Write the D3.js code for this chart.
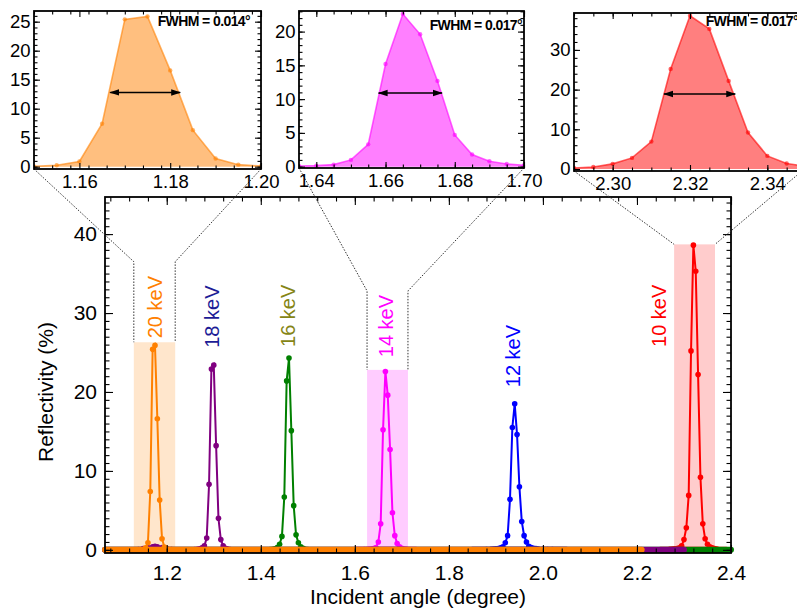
<!DOCTYPE html>
<html>
<head>
<meta charset="utf-8">
<script src="https://cdn.jsdelivr.net/npm/d3@7"></script>
<style>
body { margin: 0; background: #fff; }
text { font-family: "Liberation Sans", Arial, sans-serif; }
</style>
</head>
<body>
<div id="chart"></div>
<script>
// Reflectivity peaks, [incident angle (deg), reflectivity (%)]
const kev10 = [[2.27,0.08],[2.275,0.1],[2.28,0.13],[2.285,0.17],[2.29,0.25],[2.295,0.5],[2.30,1.3],[2.305,2.8],[2.31,6.9],[2.315,25.2],[2.32,38.6],[2.325,35.3],[2.33,22.2],[2.335,9.2],[2.34,3.3],[2.345,1.4],[2.35,0.7],[2.355,0.4],[2.36,0.25],[2.365,0.15],[2.37,0.1]];
const kev12 = [[1.88,0.05],[1.89,0.08],[1.895,0.1],[1.90,0.13],[1.905,0.17],[1.91,0.25],[1.915,0.4],[1.92,0.9],[1.925,1.8],[1.93,6.4],[1.935,15.5],[1.94,18.5],[1.945,14.6],[1.95,8.0],[1.955,3.6],[1.96,1.8],[1.965,1.0],[1.97,0.45],[1.975,0.3],[1.98,0.2],[1.985,0.15],[1.99,0.11],[2.00,0.07],[2.01,0.05],[2.02,0.04]];
const kev14 = [[1.62,0.03],[1.625,0.05],[1.63,0.08],[1.635,0.1],[1.64,0.15],[1.645,0.3],[1.65,1.0],[1.655,3.3],[1.66,15.2],[1.665,22.6],[1.67,19.6],[1.675,12.7],[1.68,4.7],[1.685,1.8],[1.69,0.8],[1.695,0.4],[1.70,0.2],[1.705,0.1],[1.71,0.06]];
const kev16 = [[1.42,0.05],[1.425,0.08],[1.43,0.12],[1.435,0.3],[1.44,0.7],[1.445,1.7],[1.45,6.7],[1.455,21.4],[1.46,24.3],[1.465,15.1],[1.47,5.6],[1.475,1.9],[1.48,0.9],[1.485,0.4],[1.49,0.2],[1.495,0.08],[1.50,0.05]];
const kev18 = [[1.14,0.05],[1.15,0.15],[1.16,0.3],[1.17,0.4],[1.175,0.45],[1.18,0.4],[1.19,0.3],[1.20,0.15],[1.21,0.05],[1.22,0.02],[1.26,0.05],[1.265,0.08],[1.27,0.12],[1.275,0.25],[1.28,0.5],[1.285,1.5],[1.29,8.3],[1.295,22.9],[1.30,23.4],[1.305,13.2],[1.31,4.0],[1.315,1.3],[1.32,0.5],[1.325,0.2],[1.33,0.1],[1.335,0.05]];
const kev20 = [[1.14,0.02],[1.145,0.03],[1.15,0.05],[1.155,0.25],[1.16,0.9],[1.165,7.4],[1.17,25.4],[1.175,25.9],[1.18,16.6],[1.185,6.3],[1.19,1.4],[1.195,0.35],[1.20,0.1],[1.205,0.05],[1.21,0.03]];

const energies = ["10 keV", "12 keV", "14 keV", "16 keV", "18 keV", "20 keV"];
const seriesData = [kev10, kev12, kev14, kev16, kev18, kev20];
const lineColors = ["#ff0000", "#0000ff", "#ff00ff", "#008000", "#800080", "#ff8000"];
const labelColors = ["#ff0000", "#0000ff", "#ff00ff", "#858515", "#1c1c96", "#ff8000"];
// angle range where each scan sits on ~0 %
const baseStart = [2.25, 1.85, 1.60, 1.0687, 1.0687, 1.0687];
const baseEnd = [2.39, 2.05, 1.73, 2.40, 2.30, 2.21];
// energy label anchor (angle, reflectivity)
const labelAngle = [2.2475, 1.9358, 1.6666, 1.457, 1.2953, 1.175];
const labelLevel = [25.7, 20.6, 24.4, 25.7, 25.6, 26.8];

// zoomed peaks
const zoomSeries = [5, 2, 0];
const zoomAngle = [[1.15, 1.20], [1.635, 1.70], [2.29, 2.35]];
const zoomLevel = [[-0.4, 26.84], [-0.2, 23.05], [-0.5, 39.3]];
const zoomXTicks = [[1.16, 1.18, 1.20], [1.64, 1.66, 1.68, 1.70], [2.30, 2.32, 2.34]];
const zoomYTicks = [[0, 5, 10, 15, 20, 25], [0, 5, 10, 15, 20], [0, 10, 20, 30]];
const bandAngle = [[1.13, 1.218], [1.626, 1.713], [2.279, 2.366]];
const bandTop = [26.3, 22.8, 38.7];
const bandBend = [36.5, 32.8, 38.7];
const fwhmLeft = [1.1668, 1.658, 2.3133];
const fwhmRight = [1.1822, 1.6763, 2.3317];
const fwhmLevel = [12.8, 10.9, 18.9];
const fwhmText = ["FWHM = 0.014°", "FWHM = 0.017°", "FWHM = 0.017°"];

const W = 797, H = 613;
const margin = { top: 197, right: 66, bottom: 60, left: 105 };

const svg = d3.select("#chart").append("svg")
    .attr("width", W).attr("height", H)
    .style("display", "block");

svg.append("defs").append("marker")
    .attr("id", "head")
    .attr("viewBox", "0 -4 10 8")
    .attr("refX", 9).attr("refY", 0)
    .attr("markerUnits", "userSpaceOnUse")
    .attr("markerWidth", 10).attr("markerHeight", 8)
    .attr("orient", "auto-start-reverse")
    .append("path").attr("d", "M0,-3.2L10,0L0,3.2Z").attr("fill", "#000");

const x = d3.scaleLinear().domain([1.0687, 2.4]).range([margin.left, W - margin.right]);
const y = d3.scaleLinear().domain([-0.4, 44.7]).range([H - margin.bottom, margin.top]);

// draws ticks on all four sides pointing inward, Mathematica style
function drawFrame(g, xs, ys, xMajor, xMinor, yMajor, yMinor, o) {
    const [l, r] = xs.range();
    const [b, t] = ys.range();
    const parts = [
        [d3.axisBottom, xs, b, xMinor, o.minor, null],
        [d3.axisBottom, xs, b, xMajor, o.major, o.xFormat],
        [d3.axisTop, xs, t, xMinor, o.minor, null],
        [d3.axisTop, xs, t, xMajor, o.major, null],
        [d3.axisLeft, ys, l, yMinor, o.minor, null],
        [d3.axisLeft, ys, l, yMajor, o.major, o.yFormat],
        [d3.axisRight, ys, r, yMinor, o.minor, null],
        [d3.axisRight, ys, r, yMajor, o.major, null]
    ];
    parts.forEach(([ax, sc, pos, vals, len, fmt], i) => {
        const horiz = i < 4;
        const a = ax(sc).tickValues(vals).tickSize(-len)
            .tickPadding(horiz ? o.xPad : o.yPad)
            .tickFormat(fmt ? fmt : "");
        const ag = g.append("g")
            .attr("transform", horiz ? `translate(0,${pos})` : `translate(${pos},0)`)
            .call(a);
        ag.select(".domain").remove();
        ag.selectAll("line").attr("stroke", "#000").attr("stroke-width", 1.1);
        ag.selectAll("text").style("font-size", o.fontSize + "px").attr("fill", "#000");
    });
    g.append("rect")
        .attr("x", l).attr("y", t)
        .attr("width", r - l).attr("height", b - t)
        .attr("fill", "none").attr("stroke", "#000").attr("stroke-width", 1.8);
}

// Main plot
const main = svg.append("g");

// shaded bands marking the zoomed regions
bandAngle.forEach((ba, i) => {
    main.append("rect")
        .attr("x", x(ba[0])).attr("y", y(bandTop[i]))
        .attr("width", x(ba[1]) - x(ba[0]))
        .attr("height", y(0) - y(bandTop[i]))
        .attr("fill", lineColors[zoomSeries[i]])
        .attr("fill-opacity", 0.2);
});

const line = d3.line().x(d => x(d[0])).y(d => y(d[1]));

seriesData.forEach((data, i) => {
    const g = main.append("g");
    g.append("line")
        .attr("x1", x(baseStart[i])).attr("x2", x(baseEnd[i]))
        .attr("y1", y(0)).attr("y2", y(0))
        .attr("stroke", lineColors[i]).attr("stroke-width", 6)
        .attr("stroke-linecap", "round");
    g.append("path")
        .datum(data)
        .attr("d", line)
        .attr("fill", "none")
        .attr("stroke", lineColors[i])
        .attr("stroke-width", 2);
    g.selectAll("circle")
        .data(data)
        .enter()
        .append("circle")
        .attr("cx", d => x(d[0]))
        .attr("cy", d => y(d[1]))
        .attr("r", 2.8)
        .attr("fill", lineColors[i]);
});

drawFrame(main, x, y,
    [1.2, 1.4, 1.6, 1.8, 2.0, 2.2, 2.4],
    d3.range(1.08, 2.401, 0.04),
    [0, 10, 20, 30, 40],
    d3.range(0, 44.5, 1),
    { major: 8, minor: 4.5, xPad: 12, yPad: 8, fontSize: 21,
      xFormat: d3.format(".1f"), yFormat: d3.format("d") });

// energy labels
energies.forEach((e, i) => {
    main.append("text")
        .attr("transform", `translate(${x(labelAngle[i])},${y(labelLevel[i])}) rotate(-90)`)
        .attr("dy", "0.35em")
        .attr("text-anchor", "start")
        .style("font-size", "20px")
        .attr("fill", labelColors[i])
        .text(e);
});

// axis titles
svg.append("text")
    .attr("x", (margin.left + W - margin.right) / 2)
    .attr("y", 604)
    .attr("text-anchor", "middle")
    .style("font-size", "21px")
    .text("Incident angle (degree)");

svg.append("text")
    .attr("transform", "translate(53,392) rotate(-90)")
    .attr("text-anchor", "middle")
    .style("font-size", "21px")
    .text("Reflectivity (%)");

// Insets (the last one runs past the right edge of the picture)
const insetBoxes = [
    { x0: 34, x1: 261, y0: 11, y1: 169 },
    { x0: 299, x1: 524, y0: 11, y1: 168 },
    { x0: 574, x1: 806, y0: 13, y1: 171 }
];
const fwhmOffset = [11, 2, 8];
const fwhmBaseline = [26, 30, 26];
const xMinorSteps = [0.004, 0.005, 0.005];
const yMinorSteps = [1, 1, 2];

zoomSeries.forEach((si, k) => {
    const box = insetBoxes[k];
    const xs = d3.scaleLinear().domain(zoomAngle[k]).range([box.x0, box.x1]);
    const ys = d3.scaleLinear().domain(zoomLevel[k]).range([box.y1, box.y0]);
    const color = lineColors[si];

    // dotted connectors from the band to the inset corners
    const band = bandAngle[k];
    const cornerRight = Math.min(box.x1, 802);
    const conn = [
        [[box.x0, box.y1], [x(band[0]), y(bandBend[k])], [x(band[0]), y(bandTop[k])]],
        [[cornerRight, box.y1], [x(band[1]), y(bandBend[k])], [x(band[1]), y(bandTop[k])]]
    ];
    conn.forEach(pts => {
        svg.append("path")
            .attr("d", d3.line()(pts))
            .attr("fill", "none")
            .attr("stroke", "#333")
            .attr("stroke-width", 1)
            .attr("stroke-dasharray", "1.5,1.5");
    });

    const g = svg.append("g");
    g.append("rect")
        .attr("x", box.x0).attr("y", box.y0)
        .attr("width", box.x1 - box.x0).attr("height", box.y1 - box.y0)
        .attr("fill", "#fff");

    const clipId = "clip" + k;
    g.append("clipPath").attr("id", clipId)
        .append("rect")
        .attr("x", box.x0).attr("y", box.y0)
        .attr("width", box.x1 - box.x0).attr("height", box.y1 - box.y0);

    const data = seriesData[si];
    const plot = g.append("g").attr("clip-path", `url(#${clipId})`);
    plot.append("path")
        .datum(data)
        .attr("d", d3.area().x(d => xs(d[0])).y0(ys(0)).y1(d => ys(d[1])))
        .attr("fill", color)
        .attr("fill-opacity", 0.5);
    plot.append("path")
        .datum(data)
        .attr("d", d3.line().x(d => xs(d[0])).y(d => ys(d[1])))
        .attr("fill", "none")
        .attr("stroke", color)
        .attr("stroke-opacity", 0.6)
        .attr("stroke-width", 1.6);
    plot.selectAll("circle")
        .data(data)
        .enter()
        .append("circle")
        .attr("cx", d => xs(d[0]))
        .attr("cy", d => ys(d[1]))
        .attr("r", 2.2)
        .attr("fill", color)
        .attr("fill-opacity", 0.6);

    drawFrame(g, xs, ys,
        zoomXTicks[k],
        d3.range(zoomAngle[k][0], zoomAngle[k][1] + 1e-6, xMinorSteps[k]),
        zoomYTicks[k],
        d3.range(0, zoomLevel[k][1], yMinorSteps[k]),
        { major: 6, minor: 3.5, xPad: 6, yPad: 3.5, fontSize: 18.5,
          xFormat: d3.format(".2f"), yFormat: d3.format("d") });

    // FWHM arrow
    g.append("line")
        .attr("x1", xs(fwhmLeft[k])).attr("x2", xs(fwhmRight[k]))
        .attr("y1", ys(fwhmLevel[k])).attr("y2", ys(fwhmLevel[k]))
        .attr("stroke", "#000").attr("stroke-width", 1.4)
        .attr("marker-start", "url(#head)")
        .attr("marker-end", "url(#head)");

    g.append("text")
        .attr("x", box.x1 - fwhmOffset[k])
        .attr("y", fwhmBaseline[k])
        .attr("text-anchor", "end")
        .style("font-size", "14px")
        .style("font-weight", "bold")
        .style("letter-spacing", "-0.6px")
        .text(fwhmText[k]);
});
</script>
</body>
</html>
